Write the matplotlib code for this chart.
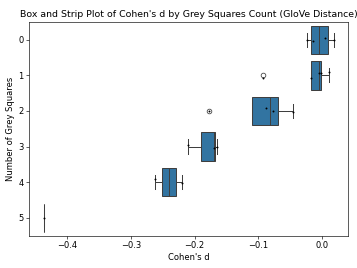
import matplotlib
matplotlib.use('Agg')
import numpy as np
import pandas as pd
import matplotlib.pyplot as plt
import seaborn as sns

# Cohen's d values per number of grey squares
d_0 = [-0.0241, -0.0146, 0.0052, 0.0193]
d_1 = [-0.0922, -0.0173, -0.0042, -0.0020, 0.0110]
d_2 = [-0.1780, -0.0875, -0.0770, -0.0460]
d_3 = [-0.2100, -0.1696, -0.1654]
d_4 = [-0.2618, -0.2194]
d_5 = [-0.4366]

groups = ['0', '1', '2', '3', '4', '5']
values = [d_0, d_1, d_2, d_3, d_4, d_5]

df = pd.DataFrame({
    'count': [g for g, v in zip(groups, values) for _ in v],
    'd': [x for v in values for x in v],
})

fig = plt.figure(figsize=(357 / 56, 268 / 56), dpi=56)
ax = fig.add_subplot(111)
fig.subplots_adjust(left=0.082, right=0.974, top=0.918, bottom=0.121)

sns.boxplot(data=df, x='d', y='count', order=groups, orient='h',
            linewidth=1.3, ax=ax)
np.random.seed(3)
sns.stripplot(data=df, x='d', y='count', order=groups, orient='h',
              color='black', size=2.5, jitter=True, ax=ax)

ax.set_xlim(-0.4597, 0.0404)
ax.set_xticks([-0.4, -0.3, -0.2, -0.1, 0.0])
ax.tick_params(labelsize=10.8)
ax.set_title("Box and Strip Plot of Cohen's d by Grey Squares Count (GloVe Distance)",
             fontsize=12)
ax.set_xlabel("Cohen's d", fontsize=10.8)
ax.set_ylabel('Number of Grey Squares', fontsize=10.8)

plt.savefig('out.png', dpi=56)
